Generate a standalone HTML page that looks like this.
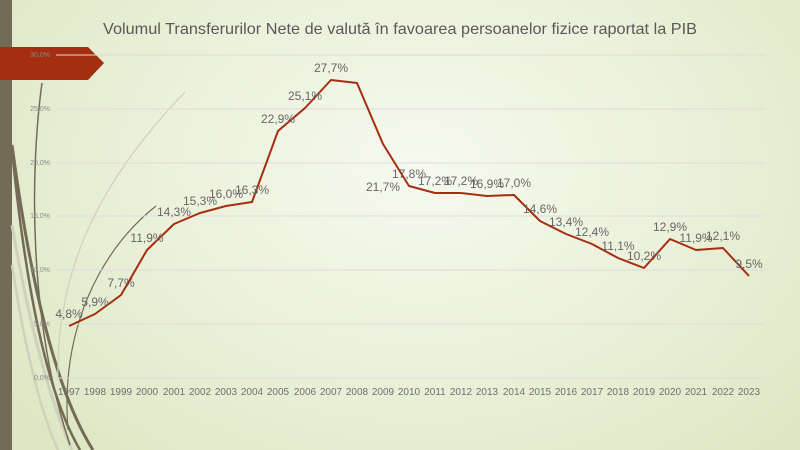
<!DOCTYPE html>
<html><head><meta charset="utf-8"><style>
html,body{margin:0;padding:0;width:800px;height:450px;overflow:hidden}
body{background:radial-gradient(ellipse 520px 380px at 420px 170px,#f6f9ef 0%,#eaf0d8 55%,#dde7c4 100%);font-family:"Liberation Sans",sans-serif}
</style></head><body>
<svg width="800" height="450" viewBox="0 0 800 450" xmlns="http://www.w3.org/2000/svg" style="position:absolute;left:0;top:0">
<rect x="0" y="0" width="12" height="450" fill="#736b55"/>
<g fill="none">
<path d="M12,225 C30,330 50,400 72,450" stroke="#cfd0bd" stroke-width="3"/>
<path d="M12,265 C25,350 40,410 58,450" stroke="#cfd0bd" stroke-width="2.5"/>
<path d="M12,145 C30,280 55,390 93,450" stroke="#736b55" stroke-width="3"/>
<path d="M12,150 C25,280 45,390 80,450" stroke="#736b55" stroke-width="2.5"/>
<path d="M42,83 C30,170 28,320 70,445" stroke="#736b55" stroke-width="1.5"/>
<path d="M185,92 C110,170 55,260 58,380" stroke="#cfd0bd" stroke-width="1.2"/>
<path d="M156,206 C100,250 60,330 68,430" stroke="#736b55" stroke-width="1.2"/>
</g>
<polygon points="0,47 88,47 104,63 88,80 0,80" fill="#a52e11"/>
<g stroke="#dcdcdc" stroke-width="1">
<line x1="56" y1="55" x2="765" y2="55"/><line x1="56" y1="109" x2="765" y2="109"/>
<line x1="56" y1="163" x2="765" y2="163"/><line x1="56" y1="216" x2="765" y2="216"/>
<line x1="56" y1="270" x2="765" y2="270"/><line x1="56" y1="324" x2="765" y2="324"/>
<line x1="56" y1="378" x2="765" y2="378"/>
</g>
<g font-size="7" fill="#8a8a8a" text-anchor="end">
<text x="50" y="57">30,0%</text><text x="50" y="111">25,0%</text><text x="50" y="165">20,0%</text>
<text x="50" y="218">15,0%</text><text x="50" y="272">10,0%</text><text x="50" y="326">5,0%</text><text x="50" y="380">0,0%</text>
</g>
<text x="400" y="34" text-anchor="middle" font-size="16" fill="#595959" textLength="594" lengthAdjust="spacingAndGlyphs">Volumul Transferurilor Nete de valută în favoarea persoanelor fizice raportat la PIB</text>
<polyline fill="none" stroke="#a52e11" stroke-width="2" stroke-linejoin="round" points="69,326 95,314 121,295 147,250 174,224 200,213 226,206 252,202 278,131 305,108 331,80 357,83 383,144 409,186 435,193 461,193 487,196 514,195 540,221 566,234 592,244 618,258 644,268 670,239 696,250 723,248 749,276"/>
<g font-size="12" fill="#666" text-anchor="middle">
<text x="69" y="318">4,8%</text><text x="95" y="306">5,9%</text><text x="121" y="287">7,7%</text>
<text x="147" y="242">11,9%</text><text x="174" y="216">14,3%</text><text x="200" y="205">15,3%</text>
<text x="226" y="198">16,0%</text><text x="252" y="194">16,3%</text><text x="278" y="123">22,9%</text>
<text x="305" y="100">25,1%</text><text x="331" y="72">27,7%</text><text x="383" y="191">21,7%</text>
<text x="409" y="178">17,8%</text><text x="435" y="185">17,2%</text><text x="461" y="185">17,2%</text>
<text x="487" y="188">16,9%</text><text x="514" y="187">17,0%</text><text x="540" y="213">14,6%</text>
<text x="566" y="226">13,4%</text><text x="592" y="236">12,4%</text><text x="618" y="250">11,1%</text>
<text x="644" y="260">10,2%</text><text x="670" y="231">12,9%</text><text x="696" y="242">11,9%</text>
<text x="723" y="240">12,1%</text><text x="749" y="268">9,5%</text>
</g>
<g font-size="10" fill="#6f6f6f" text-anchor="middle">
<text x="69" y="395">1997</text><text x="95" y="395">1998</text><text x="121" y="395">1999</text><text x="147" y="395">2000</text>
<text x="174" y="395">2001</text><text x="200" y="395">2002</text><text x="226" y="395">2003</text><text x="252" y="395">2004</text>
<text x="278" y="395">2005</text><text x="305" y="395">2006</text><text x="331" y="395">2007</text><text x="357" y="395">2008</text>
<text x="383" y="395">2009</text><text x="409" y="395">2010</text><text x="435" y="395">2011</text><text x="461" y="395">2012</text>
<text x="487" y="395">2013</text><text x="514" y="395">2014</text><text x="540" y="395">2015</text><text x="566" y="395">2016</text>
<text x="592" y="395">2017</text><text x="618" y="395">2018</text><text x="644" y="395">2019</text><text x="670" y="395">2020</text>
<text x="696" y="395">2021</text><text x="723" y="395">2022</text><text x="749" y="395">2023</text>
</g>
</svg>
</body></html>
